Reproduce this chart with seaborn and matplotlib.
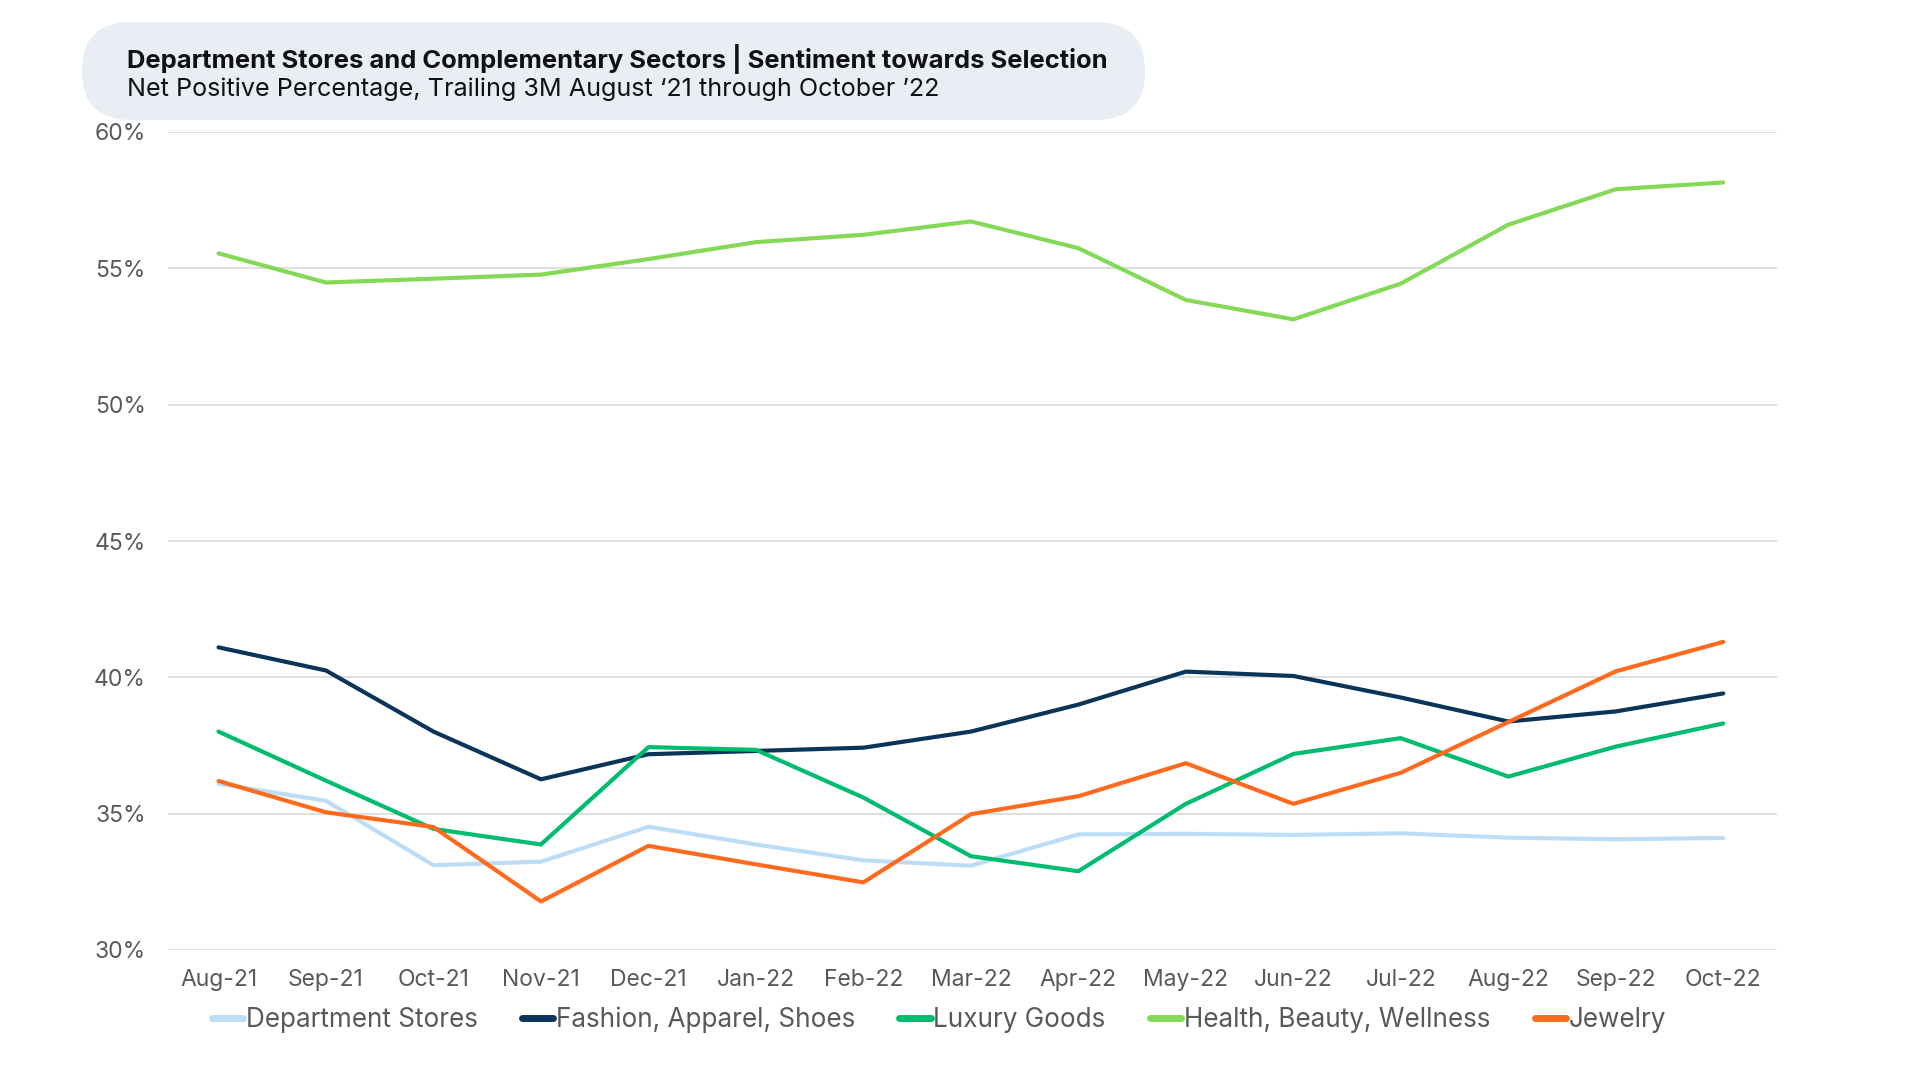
import pandas as pd
import numpy as np
import matplotlib.pyplot as plt
from matplotlib.patches import FancyBboxPatch
import seaborn as sns

# ── Data ─────────────────────────────────────────────────────────────────────
months = ['Aug-21', 'Sep-21', 'Oct-21', 'Nov-21', 'Dec-21', 'Jan-22', 'Feb-22',
          'Mar-22', 'Apr-22', 'May-22', 'Jun-22', 'Jul-22', 'Aug-22', 'Sep-22', 'Oct-22']

dept_stores = [36.1, 35.47, 33.11, 33.24, 34.52, 33.87, 33.29, 33.09,
               34.24, 34.26, 34.22, 34.28, 34.12, 34.06, 34.11]
fashion = [41.1, 40.25, 38.01, 36.26, 37.18, 37.3, 37.42, 38.01,
           39.0, 40.21, 40.05, 39.26, 38.38, 38.75, 39.41]
luxury = [38.01, 36.21, 34.44, 33.87, 37.44, 37.34, 35.59, 33.44,
          32.89, 35.36, 37.19, 37.77, 36.36, 37.46, 38.31]
health = [55.55, 54.48, 54.62, 54.77, 55.34, 55.96, 56.23, 56.72,
          55.74, 53.84, 53.13, 54.44, 56.6, 57.9, 58.15]
jewelry = [36.2, 35.05, 34.51, 31.78, 33.82, 33.14, 32.48, 34.98,
           35.64, 36.85, 35.36, 36.5, 38.36, 40.22, 41.3]

series_names = ['Department Stores', 'Fashion, Apparel, Shoes', 'Luxury Goods',
                'Health, Beauty, Wellness', 'Jewelry']
series_colors = ['#BDDDF7', '#0B3558', '#00BC6E', '#84D957', '#FF6A1F']

y_ticks = [30, 35, 40, 45, 50, 55, 60]

title = 'Department Stores and Complementary Sectors | Sentiment towards Selection'
subtitle = 'Net Positive Percentage, Trailing 3M August \u201821 through October \u201922'

df = pd.DataFrame({
    'Month': months * 5,
    'Value': dept_stores + fashion + luxury + health + jewelry,
    'Sector': [n for n in series_names for _ in months],
})

# ── Plot ─────────────────────────────────────────────────────────────────────
sns.set_style('white')
plt.rcParams['font.family'] = ['Inter', 'DejaVu Sans']

W, H = 1920, 1080
fig = plt.figure(figsize=(19.2, 10.8), dpi=100)

# background axes in pixel coords for the title pill
bg = fig.add_axes([0, 0, 1, 1])
bg.set_xlim(0, W)
bg.set_ylim(H, 0)
bg.axis('off')
pill_h = 98
bg.add_patch(FancyBboxPatch((82, 22), 1145 - 82, pill_h,
                            boxstyle=f'round,pad=0,rounding_size={pill_h / 2}',
                            facecolor='#E8EEF4', edgecolor='none'))
bg.text(127, 59, title, fontsize=18.4, fontweight='bold', color='#111111',
        va='center', ha='left')
bg.text(127, 89, subtitle, fontsize=18.1, color='#111111', va='center', ha='left')

ax = fig.add_axes([168 / W, 1 - 950 / H, (1777 - 168) / W, (950 - 132) / H])

sns.lineplot(data=df, x='Month', y='Value', hue='Sector', hue_order=series_names,
             palette=series_colors, linewidth=3, sort=False, ax=ax, legend=False)

ax.set_xlim(-0.47, len(months) - 0.5)
ax.set_ylim(30, 60)
ax.set_yticks(y_ticks)
ax.set_yticklabels([f'{t}%' for t in y_ticks])
ax.set_xlabel('')
ax.set_ylabel('')
ax.grid(axis='y', color='#D9D9D9', linewidth=1.2)
ax.grid(axis='x', visible=False)
ax.set_axisbelow(True)
for s in ax.spines.values():
    s.set_visible(False)
ax.tick_params(axis='both', length=0, labelsize=16.5, colors='#595959')
ax.tick_params(axis='y', pad=16)
ax.tick_params(axis='x', pad=14)

# legend
handles = [plt.Line2D([], [], color=c, lw=5, solid_capstyle='round') for c in series_colors]
fig.legend(handles, series_names, loc='center', bbox_to_anchor=(0.489, 1 - 1020 / H),
           ncol=5, frameon=False, fontsize=18.8, handlelength=1.2, handletextpad=0.1,
           columnspacing=1.7, labelcolor='#595959')

plt.savefig('out.png', dpi=100, facecolor='white')
